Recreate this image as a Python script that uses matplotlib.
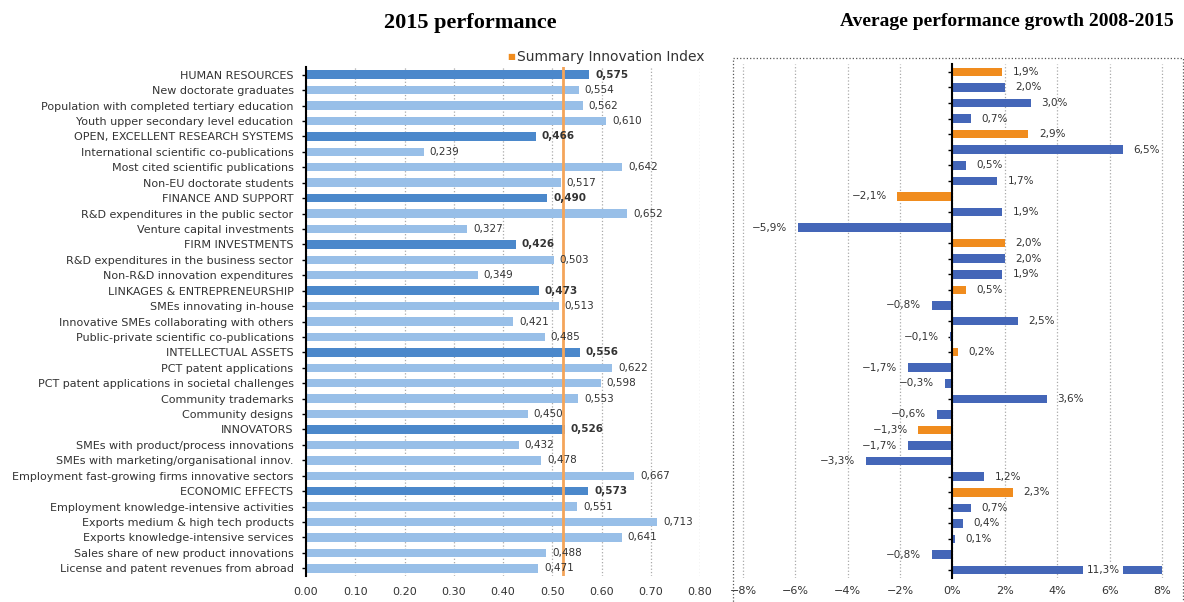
import numpy as np
import matplotlib.pyplot as plt
from matplotlib.patches import Rectangle

# indicator names (top to bottom), headers are the upper-case dimension rows
labels = ['HUMAN RESOURCES', 'New doctorate graduates', 'Population with completed tertiary education',
          'Youth upper secondary level education', 'OPEN, EXCELLENT RESEARCH SYSTEMS',
          'International scientific co-publications', 'Most cited scientific publications',
          'Non-EU doctorate students', 'FINANCE AND SUPPORT', 'R&D expenditures in the public sector',
          'Venture capital investments', 'FIRM INVESTMENTS', 'R&D expenditures in the business sector',
          'Non-R&D innovation expenditures', 'LINKAGES & ENTREPRENEURSHIP', 'SMEs innovating in-house',
          'Innovative SMEs collaborating with others', 'Public-private scientific co-publications',
          'INTELLECTUAL ASSETS', 'PCT patent applications', 'PCT patent applications in societal challenges',
          'Community trademarks', 'Community designs', 'INNOVATORS', 'SMEs with product/process innovations',
          'SMEs with marketing/organisational innov.', 'Employment fast-growing firms innovative sectors',
          'ECONOMIC EFFECTS', 'Employment knowledge-intensive activities', 'Exports medium & high tech products',
          'Exports knowledge-intensive services', 'Sales share of new product innovations',
          'License and patent revenues from abroad']

perf_2015 = [0.575, 0.554, 0.562, 0.610, 0.466, 0.239, 0.642, 0.517, 0.490, 0.652, 0.327,
             0.426, 0.503, 0.349, 0.473, 0.513, 0.421, 0.485, 0.556, 0.622, 0.598, 0.553,
             0.450, 0.526, 0.432, 0.478, 0.667, 0.573, 0.551, 0.713, 0.641, 0.488, 0.471]

growth = [1.9, 2.0, 3.0, 0.7, 2.9, 6.5, 0.5, 1.7, -2.1, 1.9, -5.9,
          2.0, 2.0, 1.9, 0.5, -0.8, 2.5, -0.1, 0.2, -1.7, -0.3, 3.6,
          -0.6, -1.3, -1.7, -3.3, 1.2, 2.3, 0.7, 0.4, 0.1, -0.8, 11.3]

sii = 0.521
x_ticks_left = [0.0, 0.1, 0.2, 0.3, 0.4, 0.5, 0.6, 0.7, 0.8]
x_ticks_right = [-8, -6, -4, -2, 0, 2, 4, 6, 8]

is_header = [lab.isupper() for lab in labels]
n = len(labels)
y = np.arange(n)

c_head = '#4b88cb'
c_sub = '#98bfe8'
c_blue = '#4466b8'
c_orange = '#f08c1e'
txt = '#333333'

fig = plt.figure(figsize=(11.84, 6.02), dpi=100)

# ---------- left panel: 2015 performance ----------
ax1 = fig.add_axes([306/1184, 1 - 576/602, 394/1184, (576 - 67)/602])
cols = [c_head if h else c_sub for h in is_header]
ax1.barh(y, perf_2015, height=0.55, color=cols, zorder=2)
ax1.axvline(sii, color='#f4a55a', lw=2, zorder=3)
for yi, v, h in zip(y, perf_2015, is_header):
    ax1.text(v + 0.012, yi, ('%.3f' % v).replace('.', ','), va='center', ha='left',
             fontsize=7.5, color=txt, fontweight='bold' if h else 'normal', zorder=4)
ax1.set_xlim(0, 0.8)
ax1.set_ylim(n - 0.5, -0.5)
ax1.set_yticks(y)
ax1.set_yticklabels(labels, fontsize=8, color=txt)
ax1.set_xticks(x_ticks_left)
ax1.set_xticklabels(['%.2f' % t for t in x_ticks_left], fontsize=8, color=txt)
ax1.tick_params(axis='x', length=0, pad=8)
ax1.tick_params(axis='y', length=3, width=1, color='black', pad=6)
ax1.grid(axis='x', linestyle=':', color='#aaaaaa', lw=0.9, zorder=0)
for s in ['top', 'right', 'bottom']:
    ax1.spines[s].set_visible(False)
ax1.spines['left'].set_linewidth(1.5)

fig.text(470/1184, 1 - 23/602, '2015 performance', ha='center', va='center',
         fontsize=16, fontweight='bold', family='Liberation Serif')
fig.text(511/1184, 1 - 57/602, '\u25a0', ha='center', va='center', fontsize=6, color=c_orange)
fig.text(517/1184, 1 - 57/602, 'Summary Innovation Index', ha='left', va='center',
         fontsize=10, color=txt)

# ---------- right panel: growth 2008-2015 ----------
ax2 = fig.add_axes([733/1184, 1 - 578/602, 451/1184, (578 - 64)/602])
cols2 = [c_orange if h else c_blue for h in is_header]
xmax = 8
ax2.barh(y, [min(v, xmax) for v in growth], height=0.55, color=cols2, zorder=2)
for yi, v in zip(y, growth):
    s = ('%.1f%%' % abs(v)).replace('.', ',')
    if v < 0:
        ax2.text(v - 0.4, yi, '\u2212' + s, va='center', ha='right', fontsize=7.5, color=txt, zorder=4)
    elif v > xmax:
        ax2.text(5.75, yi, s, va='center', ha='center', fontsize=7.5, color=txt, zorder=4,
                 bbox=dict(facecolor='white', edgecolor='none', pad=2.5))
    else:
        ax2.text(v + 0.4, yi, s, va='center', ha='left', fontsize=7.5, color=txt, zorder=4)
ax2.set_xlim(-8.38, 8.84)
ax2.set_ylim(n - 0.5, -0.5)
ax2.set_xticks(x_ticks_right)
ax2.set_xticklabels([('\u2212%d%%' % -t) if t < 0 else '%d%%' % t for t in x_ticks_right],
                    fontsize=8, color=txt)
ax2.set_yticks(y)
ax2.set_yticklabels([])
ax2.tick_params(axis='x', length=0, pad=6)
ax2.tick_params(axis='y', length=3, width=1, color='black')
ax2.grid(axis='x', linestyle=':', color='#aaaaaa', lw=0.9, zorder=0)
for s in ['top', 'right', 'bottom']:
    ax2.spines[s].set_visible(False)
ax2.spines['left'].set_position(('data', 0))
ax2.spines['left'].set_linewidth(1.5)
ax2.spines['left'].set_zorder(5)

fig.text(1007/1184, 1 - 22/602, 'Average performance growth 2008-2015', ha='center', va='center',
         fontsize=14, fontweight='bold', family='Liberation Serif')

# dotted frame around the right panel
fig.patches.append(Rectangle((733/1184, -0.01), 450/1184, 1 - 58/602 + 0.01,
                             transform=fig.transFigure, fill=False, linestyle=':',
                             edgecolor='#555555', lw=0.9))

fig.savefig('out.png', dpi=100)
